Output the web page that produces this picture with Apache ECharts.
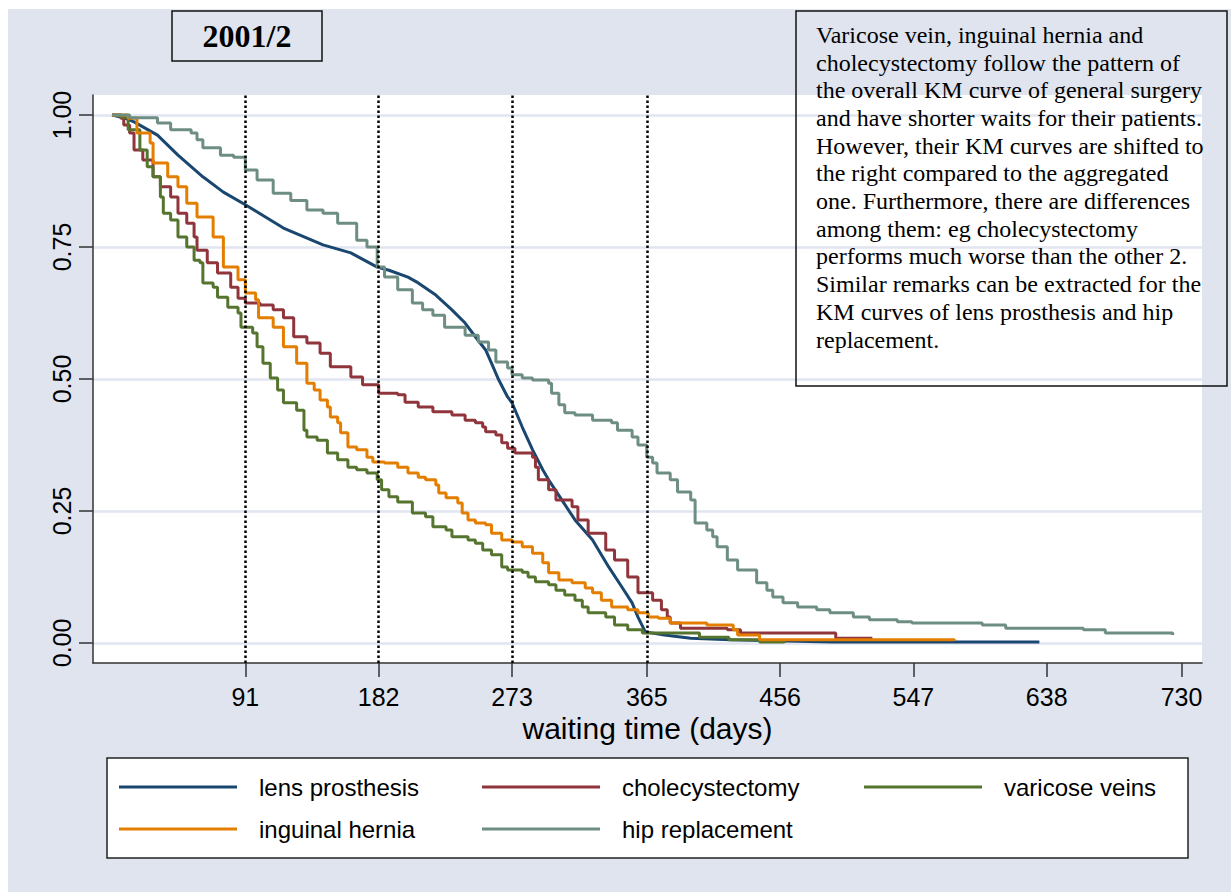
<!DOCTYPE html>
<html><head><meta charset="utf-8">
<script src="https://cdn.jsdelivr.net/npm/echarts@6/dist/echarts.min.js"></script>
<style>html,body{margin:0;padding:0;background:#fff}#c{width:1231px;height:892px}</style>
</head><body><div id="c"></div>
<script>
// ---- DATA ----
const seriesNames = ['lens prosthesis', 'cholecystectomy', 'varicose veins', 'inguinal hernia', 'hip replacement'];
const xTickDays = [91, 182, 273, 365, 456, 547, 638, 730];
const yTickValues = [0, 0.25, 0.5, 0.75, 1];
const refDays = [91, 182, 273, 365];

const lensProsthesis = [[0,1],[8,0.995],[15,0.987],[31,0.962],[45,0.924],[62,0.883],[76,0.854],[91,0.830],[117,0.786],[144,0.754],[163,0.739],[181,0.712],[189,0.706],[202,0.693],[209,0.682],[221,0.659],[232,0.631],[241,0.606],[248,0.580],[255,0.555],[259,0.530],[264,0.498],[270,0.466],[273,0.455],[280,0.409],[287,0.366],[294,0.328],[298,0.309],[307,0.271],[316,0.233],[328,0.195],[339,0.144],[348,0.106],[355,0.076],[359,0.049],[364,0.021],[377,0.015],[395,0.009],[422,0.006],[492,0.002],[633,0.002]];
const cholecystectomy = [[0,1],[6,0.994],[8,0.981],[12,0.966],[15,0.934],[21,0.915],[28,0.883],[33,0.864],[40,0.845],[45,0.814],[51,0.795],[56,0.769],[58,0.744],[65,0.720],[72,0.701],[81,0.674],[86,0.653],[91,0.644],[101,0.640],[110,0.631],[117,0.616],[124,0.580],[133,0.568],[142,0.549],[149,0.523],[163,0.504],[171,0.489],[182,0.473],[195,0.470],[200,0.456],[209,0.447],[219,0.438],[232,0.432],[241,0.422],[248,0.417],[253,0.409],[255,0.400],[262,0.394],[266,0.379],[270,0.369],[275,0.360],[287,0.352],[289,0.333],[291,0.309],[298,0.290],[303,0.271],[314,0.258],[318,0.233],[325,0.208],[337,0.176],[343,0.157],[352,0.125],[359,0.095],[369,0.081],[375,0.063],[379,0.049],[381,0.038],[388,0.028],[420,0.025],[429,0.019],[494,0.009],[519,0.009]];
const varicoseVeins = [[0,1],[6,0.996],[11,0.972],[19,0.934],[24,0.902],[28,0.883],[33,0.845],[35,0.814],[40,0.801],[45,0.769],[51,0.750],[56,0.725],[60,0.720],[62,0.682],[69,0.674],[72,0.655],[79,0.636],[86,0.625],[88,0.598],[96,0.587],[99,0.561],[103,0.530],[108,0.502],[113,0.479],[117,0.455],[126,0.441],[131,0.403],[133,0.390],[140,0.384],[147,0.360],[154,0.347],[161,0.333],[167,0.328],[174,0.322],[181,0.309],[184,0.290],[189,0.277],[195,0.267],[205,0.246],[214,0.239],[219,0.220],[228,0.214],[232,0.201],[243,0.195],[248,0.189],[253,0.176],[259,0.167],[266,0.144],[270,0.138],[280,0.134],[284,0.125],[289,0.116],[298,0.110],[303,0.100],[309,0.091],[316,0.081],[321,0.068],[325,0.057],[337,0.049],[343,0.034],[352,0.025],[362,0.019],[401,0.011],[421,0.006],[442,0.002],[459,0.0]];
const inguinalHernia = [[0,1],[11,0.994],[17,0.966],[26,0.947],[28,0.909],[38,0.883],[45,0.864],[51,0.833],[58,0.807],[69,0.769],[76,0.712],[86,0.688],[91,0.663],[98,0.650],[100,0.616],[110,0.598],[117,0.561],[126,0.530],[133,0.492],[138,0.479],[142,0.460],[147,0.447],[149,0.428],[154,0.417],[156,0.398],[161,0.371],[167,0.366],[174,0.352],[178,0.343],[186,0.341],[195,0.333],[202,0.322],[209,0.314],[214,0.309],[221,0.299],[223,0.284],[228,0.275],[236,0.265],[239,0.246],[243,0.233],[248,0.227],[255,0.224],[259,0.208],[266,0.195],[273,0.191],[280,0.182],[287,0.170],[294,0.152],[298,0.133],[305,0.119],[314,0.114],[323,0.104],[328,0.095],[334,0.081],[341,0.068],[352,0.063],[359,0.057],[366,0.049],[373,0.047],[381,0.038],[406,0.034],[424,0.025],[427,0.015],[442,0.006],[575,0.004]];
const hipReplacement = [[0,1],[10,1.0],[12,0.995],[31,0.985],[40,0.972],[54,0.966],[58,0.953],[62,0.938],[74,0.924],[83,0.920],[91,0.896],[99,0.877],[110,0.852],[122,0.838],[133,0.820],[144,0.814],[154,0.795],[167,0.763],[174,0.750],[181,0.712],[186,0.693],[195,0.669],[205,0.644],[212,0.631],[219,0.621],[227,0.598],[241,0.583],[250,0.570],[257,0.555],[262,0.532],[270,0.521],[273,0.508],[280,0.502],[287,0.498],[298,0.492],[300,0.473],[305,0.451],[309,0.436],[316,0.432],[328,0.422],[341,0.417],[345,0.403],[355,0.390],[359,0.375],[365,0.352],[369,0.341],[372,0.322],[381,0.309],[386,0.286],[395,0.271],[398,0.227],[406,0.214],[410,0.201],[413,0.182],[420,0.157],[427,0.138],[440,0.114],[447,0.100],[451,0.087],[458,0.076],[468,0.068],[481,0.063],[490,0.057],[506,0.049],[517,0.044],[536,0.040],[546,0.038],[594,0.034],[610,0.028],[663,0.025],[678,0.019],[724,0.015]];

const noteLines = [
  'Varicose vein, inguinal hernia and',
  'cholecystectomy follow the pattern of',
  'the overall KM curve of general surgery',
  'and have shorter waits for their patients.',
  'However, their KM curves are shifted to',
  'the right compared to the aggregated',
  'one. Furthermore, there are differences',
  'among them: eg cholecystectomy',
  'performs much worse than the other 2.',
  'Similar remarks can be extracted for the',
  'KM curves of lens prosthesis and hip',
  'replacement.'
];
const titleText = '2001/2';

// ---- CHART ----
const colors = ['#1a476f', '#90353b', '#55752f', '#e37e00', '#6e8e84'];
const dataSets = [lensProsthesis, cholecystectomy, varicoseVeins, inguinalHernia, hipReplacement];
const bg = '#dfe4ef';
const sans = 'Liberation Sans, Arial, sans-serif';
const serif = 'Liberation Serif, Times New Roman, serif';

const series = dataSets.map((d, i) => ({
  name: seriesNames[i],
  type: 'line',
  data: d,
  step: i === 0 ? false : 'end',
  symbol: 'none',
  showSymbol: false,
  z: 3,
  lineStyle: { width: 3, color: colors[i] },
  itemStyle: { color: colors[i] },
  animation: false
}));
series[0].markLine = {
  silent: true, symbol: ['none', 'none'], animation: false,
  label: { show: false },
  lineStyle: { color: '#000', type: 'dotted', width: 2.5 },
  data: refDays.map(d => ({ xAxis: d }))
};

const legendBase = {
  orient: 'vertical', padding: 0, itemWidth: 118, itemHeight: 3, itemGap: 18,
  icon: 'rect', top: 775, selectedMode: false, z: 5,
  textStyle: { fontSize: 24, fontFamily: sans, color: '#000', lineHeight: 24, padding: [0, 0, 0, 17] }
};

const chart = echarts.init(document.getElementById('c'), null, { renderer: 'svg', width: 1231, height: 892 });
chart.setOption({
  backgroundColor: bg,
  animation: false,
  grid: { left: 93, right: 29, top: 95, bottom: 229, show: true, backgroundColor: '#fff', borderWidth: 0 },
  xAxis: {
    type: 'value', min: -13, max: 744,
    name: 'waiting time (days)', nameLocation: 'middle', nameGap: 46,
    nameTextStyle: { fontSize: 30, fontFamily: sans, color: '#000' },
    axisLine: { show: true, onZero: false, lineStyle: { color: '#333', width: 1.5 } },
    axisTick: { show: true, length: 14, customValues: xTickDays, lineStyle: { color: '#333', width: 1.5 } },
    axisLabel: { customValues: xTickDays, fontSize: 25, fontFamily: sans, color: '#000', margin: 21 },
    splitLine: { show: false }
  },
  yAxis: {
    type: 'value', min: -0.038, max: 1.038,
    axisLine: { show: true, onZero: false, lineStyle: { color: '#333', width: 1.5 } },
    axisTick: { show: true, length: 14, customValues: yTickValues, lineStyle: { color: '#333', width: 1.5 } },
    axisLabel: { customValues: yTickValues, rotate: 90, fontSize: 25, fontFamily: sans, color: '#000', margin: 19,
      formatter: v => v.toFixed(2) },
    splitLine: { show: true, lineStyle: { color: '#e0e5f0', width: 2.5 } }
  },
  legend: [
    Object.assign({}, legendBase, { left: 119, data: [seriesNames[0], seriesNames[3]] }),
    Object.assign({}, legendBase, { left: 482, data: [seriesNames[1], seriesNames[4]] }),
    Object.assign({}, legendBase, { left: 864, data: [seriesNames[2]] })
  ],
  graphic: { elements: [
    { type: 'rect', shape: { x: 0, y: 0, width: 1231, height: 9 }, style: { fill: '#fff' }, z: 0, silent: true },
    { type: 'rect', shape: { x: 0, y: 0, width: 8, height: 892 }, style: { fill: '#fff' }, z: 0, silent: true },
    { type: 'rect', shape: { x: 107, y: 758, width: 1081, height: 100 }, style: { fill: '#fff', stroke: '#222', lineWidth: 1.5 }, z: 1, silent: true },
    { type: 'rect', shape: { x: 172, y: 11, width: 150, height: 50 }, style: { fill: 'none', stroke: '#111', lineWidth: 1.5 }, z: 10, silent: true },
    { type: 'text', x: 247, y: 36, style: { text: titleText, font: 'bold 32px ' + serif, fill: '#000', align: 'center', verticalAlign: 'middle' }, z: 10, silent: true },
    { type: 'rect', shape: { x: 796, y: 11, width: 431, height: 375 }, style: { fill: 'none', stroke: '#111', lineWidth: 1.5 }, z: 10, silent: true },
    { type: 'text', x: 816, y: 21, style: { text: noteLines.join('\n'), font: '24px ' + serif, lineHeight: 27.7, fill: '#000', align: 'left', verticalAlign: 'top' }, z: 10, silent: true }
  ] },
  series: series
});
</script></body></html>
